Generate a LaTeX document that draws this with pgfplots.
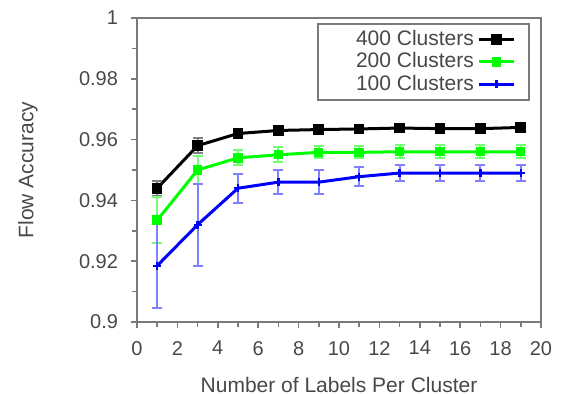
\documentclass[border=0pt]{standalone}
\usepackage{pgfplots}
\pgfplotsset{compat=1.18}
\usepackage{fontspec}
\setmainfont{Liberation Sans}
\definecolor{txt}{HTML}{484848}
\definecolor{frm}{HTML}{7A7A7A}
\definecolor{gr}{HTML}{00FF00}
\definecolor{bl}{HTML}{0000FF}
\begin{document}
\begin{tikzpicture}
\useasboundingbox (-68.5pt,-36pt) rectangle (213pt,161pt);
\begin{axis}[
  at={(0,0)}, anchor=south west,
  scale only axis, width=202pt, height=152pt,
  xmin=0, xmax=20, ymin=0.9, ymax=1,
  xtick={0,2,...,20}, minor xtick={1,3,...,19},
  ytick={0.9,0.92,0.94,0.96,0.98,1},
  minor ytick={0.91,0.93,0.95,0.97,0.99},
  yticklabels={0.9,0.92,0.94,0.96,0.98,1},
  tick align=outside, ticks=both,
  xtick pos=bottom, ytick pos=left,
  axis line style={draw=frm, line width=1.3pt},
  every tick/.style={draw=frm, line width=0.8pt},
  major tick length=3pt, minor tick length=2.5pt,
  tick label style={font=\fontsize{10}{11}\selectfont, text=txt},
  xticklabel style={yshift=-3pt},
  yticklabel style={xshift=-3pt},
  /pgf/number format/assume math mode=true,
  label style={font=\fontsize{10.5}{12}\selectfont, text=txt},
  xlabel={Number of Labels Per Cluster},
  ylabel={Flow Accuracy},
  xlabel style={at={(axis description cs:0.5,-0.207)}, anchor=center},
  ylabel style={at={(axis description cs:-0.27,0.5)}, anchor=center},
  legend plot pos=right,
  legend cell align=right,
  legend style={font=\fontsize{10.5}{11}\selectfont, text=txt, draw=frm, line width=1pt,
    at={(0.973,0.985)}, anchor=north east, inner xsep=7pt, inner ysep=1.5pt, row sep=-2pt},
  legend image post style={line width=1.5pt},
  error bars/y dir=both, error bars/y explicit,
  clip=false,
]
\addplot+[black, line width=1.5pt, mark=square*, mark size=1.9pt, mark options={solid, fill=black},
  error bars/error bar style={black!50, line width=1pt}, error bars/error mark options={rotate=90, mark size=2.5pt, black!50, line width=1pt}]
  coordinates {
  (1,0.9440) +- (0,0.0025)
  (3,0.9580) +- (0,0.0025)
  (5,0.9620) +- (0,0.0012)
  (7,0.9630) +- (0,0.0008)
  (9,0.9633) +- (0,0.0008)
  (11,0.9635) +- (0,0.0006)
  (13,0.9638) +- (0,0.0006)
  (15,0.9636) +- (0,0.0006)
  (17,0.9636) +- (0,0.0006)
  (19,0.9640) +- (0,0.0006)
  };
\addlegendentry{\hspace{10pt}400 Clusters}
\addplot+[gr, line width=1.5pt, mark=square*, mark size=1.6pt, mark options={solid, fill=gr, draw=gr},
  error bars/error bar style={gr!55, line width=1pt}, error bars/error mark options={rotate=90, mark size=2.5pt, gr!55, line width=1pt}]
  coordinates {
  (1,0.9335) +- (0,0.0075)
  (3,0.9500) +- (0,0.0045)
  (5,0.9540) +- (0,0.0025)
  (7,0.9550) +- (0,0.0025)
  (9,0.9558) +- (0,0.0020)
  (11,0.9558) +- (0,0.0020)
  (13,0.9560) +- (0,0.0022)
  (15,0.9560) +- (0,0.0022)
  (17,0.9560) +- (0,0.0022)
  (19,0.9560) +- (0,0.0022)
  };
\addlegendentry{200 Clusters}
\addplot+[bl, line width=1.5pt, mark=+, mark size=2pt, mark options={solid, draw=bl, line width=1.2pt},
  error bars/error bar style={bl!50, line width=1pt}, error bars/error mark options={rotate=90, mark size=2.5pt, bl!50, line width=1pt}]
  coordinates {
  (1,0.9185) +- (0,0.0140)
  (3,0.9320) +- (0,0.0135)
  (5,0.9440) +- (0,0.0048)
  (7,0.9460) +- (0,0.0040)
  (9,0.9460) +- (0,0.0040)
  (11,0.9478) +- (0,0.0032)
  (13,0.9490) +- (0,0.0025)
  (15,0.9490) +- (0,0.0025)
  (17,0.9490) +- (0,0.0025)
  (19,0.9490) +- (0,0.0025)
  };
\addlegendentry{100 Clusters}
\end{axis}
\end{tikzpicture}
\end{document}
